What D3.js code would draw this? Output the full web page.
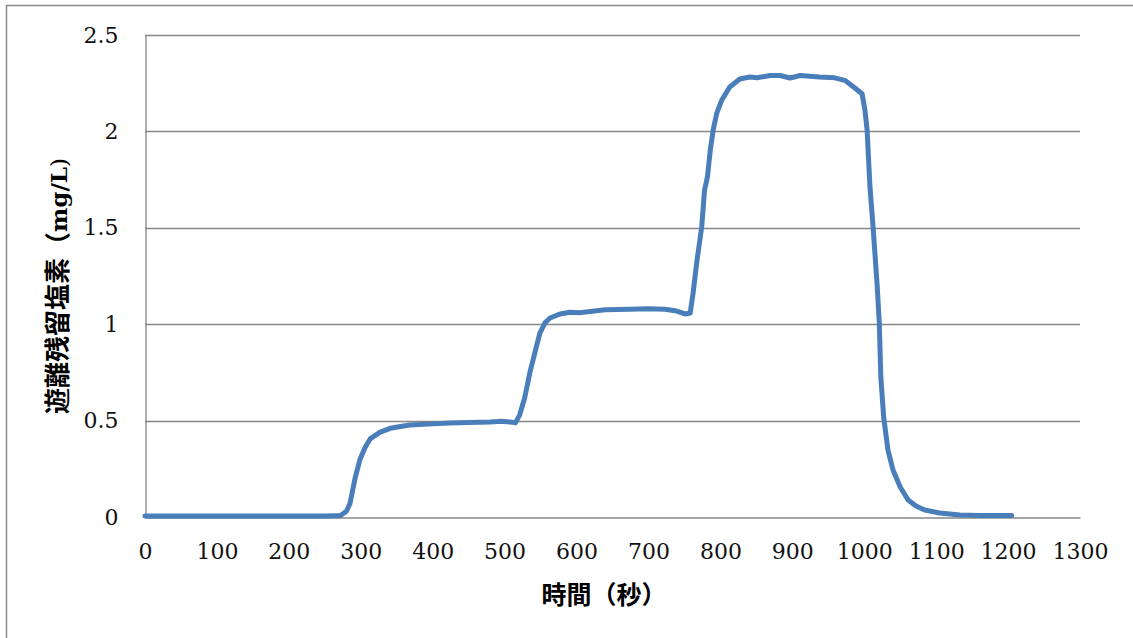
<!DOCTYPE html>
<html>
<head>
<meta charset="utf-8">
<script src="https://cdn.jsdelivr.net/npm/d3@7"></script>
<style>
  html, body { margin: 0; padding: 0; background: #fff; }
  svg { display: block; }
</style>
</head>
<body>
<svg id="chart" width="1133" height="638"></svg>
<script>
// ---- Data ----
const timeSec = [0, 50, 100, 150, 200, 250, 272, 280, 285, 292, 299, 306, 313, 327, 341, 368, 400, 424, 450, 480, 495, 510, 515, 521, 528, 535, 542, 549, 556, 563, 577, 591, 605, 619, 640, 674, 700, 723, 737, 751, 758, 762, 767, 774, 778, 782, 786, 790, 795, 802, 813, 827, 841, 851, 869, 883, 897, 911, 938, 959, 973, 987, 997, 1001, 1004, 1008, 1012, 1018, 1021, 1023, 1027, 1033, 1040, 1050, 1061, 1072, 1084, 1105, 1133, 1160, 1205];
const chlorine = [0.005, 0.005, 0.005, 0.005, 0.005, 0.005, 0.008, 0.03, 0.07, 0.2, 0.3, 0.36, 0.405, 0.44, 0.46, 0.477, 0.483, 0.488, 0.49, 0.493, 0.497, 0.492, 0.488, 0.53, 0.62, 0.747, 0.851, 0.954, 1.006, 1.032, 1.053, 1.062, 1.06, 1.066, 1.075, 1.078, 1.08, 1.078, 1.07, 1.053, 1.058, 1.16, 1.317, 1.504, 1.696, 1.764, 1.904, 2.007, 2.095, 2.163, 2.23, 2.272, 2.282, 2.278, 2.29, 2.29, 2.277, 2.29, 2.282, 2.278, 2.265, 2.225, 2.195, 2.11, 2.007, 1.71, 1.52, 1.2, 1.0, 0.73, 0.519, 0.347, 0.244, 0.156, 0.088, 0.057, 0.036, 0.021, 0.01, 0.008, 0.008];
const xTicks = [0, 100, 200, 300, 400, 500, 600, 700, 800, 900, 1000, 1100, 1200, 1300];
const yTicks = [0, 0.5, 1, 1.5, 2, 2.5];
const xTitle = "時間（秒）";
const yTitleJa = "遊離残留塩素（";
const yTitleUnit = "mg/L";

(function () {
  // ---- Layout ----
  const svg = d3.select("#chart");
  const padL = 145, padR = 1080, padT = 35, padB = 517;
  const x = d3.scaleLinear().domain([0, 1300]).range([padL, padR]);
  const y = d3.scaleLinear().domain([0, 2.5]).range([padB, padT]);
  const gridColor = "#878787";
  const serif = "'DejaVu Serif', 'Liberation Serif', serif";
  const cjk = "'Noto Sans CJK JP', 'Noto Sans CJK SC', sans-serif";

  // chart border (clipped by the window on right/bottom)
  svg.append("rect")
    .attr("x", 6.5).attr("y", 5.5)
    .attr("width", 1150).attr("height", 660)
    .attr("fill", "none").attr("stroke", "#8c8c8c").attr("stroke-width", 1.5);

  // horizontal gridlines
  svg.append("g")
    .selectAll("line").data(yTicks.filter(d => d > 0)).join("line")
    .attr("x1", padL).attr("x2", padR)
    .attr("y1", d => Math.round(y(d)) + 0.5).attr("y2", d => Math.round(y(d)) + 0.5)
    .attr("stroke", gridColor).attr("stroke-width", 1.3);

  // axes via d3
  const yAxis = svg.append("g")
    .attr("transform", `translate(${padL + 0.5},0)`)
    .call(d3.axisLeft(y).tickValues(yTicks).tickSize(0).tickPadding(27).tickFormat(d3.format("")));
  const xAxis = svg.append("g")
    .attr("transform", `translate(0,${padB + 0.5})`)
    .call(d3.axisBottom(x).tickValues(xTicks).tickSize(0).tickPadding(26).tickFormat(d3.format("")));

  [yAxis, xAxis].forEach(g => {
    g.select(".domain").attr("stroke", gridColor).attr("stroke-width", 1.3);
    g.selectAll("text")
      .attr("font-family", serif).attr("font-size", 22).attr("fill", "#111");
  });

  // line series
  const pts = timeSec.map((t, i) => [t, chlorine[i]]);
  const line = d3.line().x(d => x(d[0])).y(d => y(d[1])).curve(d3.curveLinear);
  svg.append("path")
    .datum(pts)
    .attr("d", line)
    .attr("fill", "none")
    .attr("stroke", "#4a7ebb")
    .attr("stroke-width", 5)
    .attr("stroke-linejoin", "round")
    .attr("stroke-linecap", "round");

  // x title
  svg.append("text")
    .attr("x", 604).attr("y", 604)
    .attr("text-anchor", "middle")
    .attr("font-family", cjk).attr("font-weight", 700).attr("font-size", 25)
    .attr("fill", "#000")
    .text(xTitle);

  // y title (rotated)
  const yt = svg.append("text")
    .attr("transform", "translate(67,286) rotate(-90)")
    .attr("text-anchor", "middle")
    .attr("fill", "#000")
    .attr("font-size", 26);
  yt.append("tspan").attr("font-family", cjk).attr("font-weight", 700).text(yTitleJa);
  yt.append("tspan").attr("font-family", serif).attr("font-weight", 700).attr("font-size", 23).text(yTitleUnit);
  yt.append("tspan").attr("font-family", serif).attr("font-size", 23).text(")");
})();
</script>
</body>
</html>
